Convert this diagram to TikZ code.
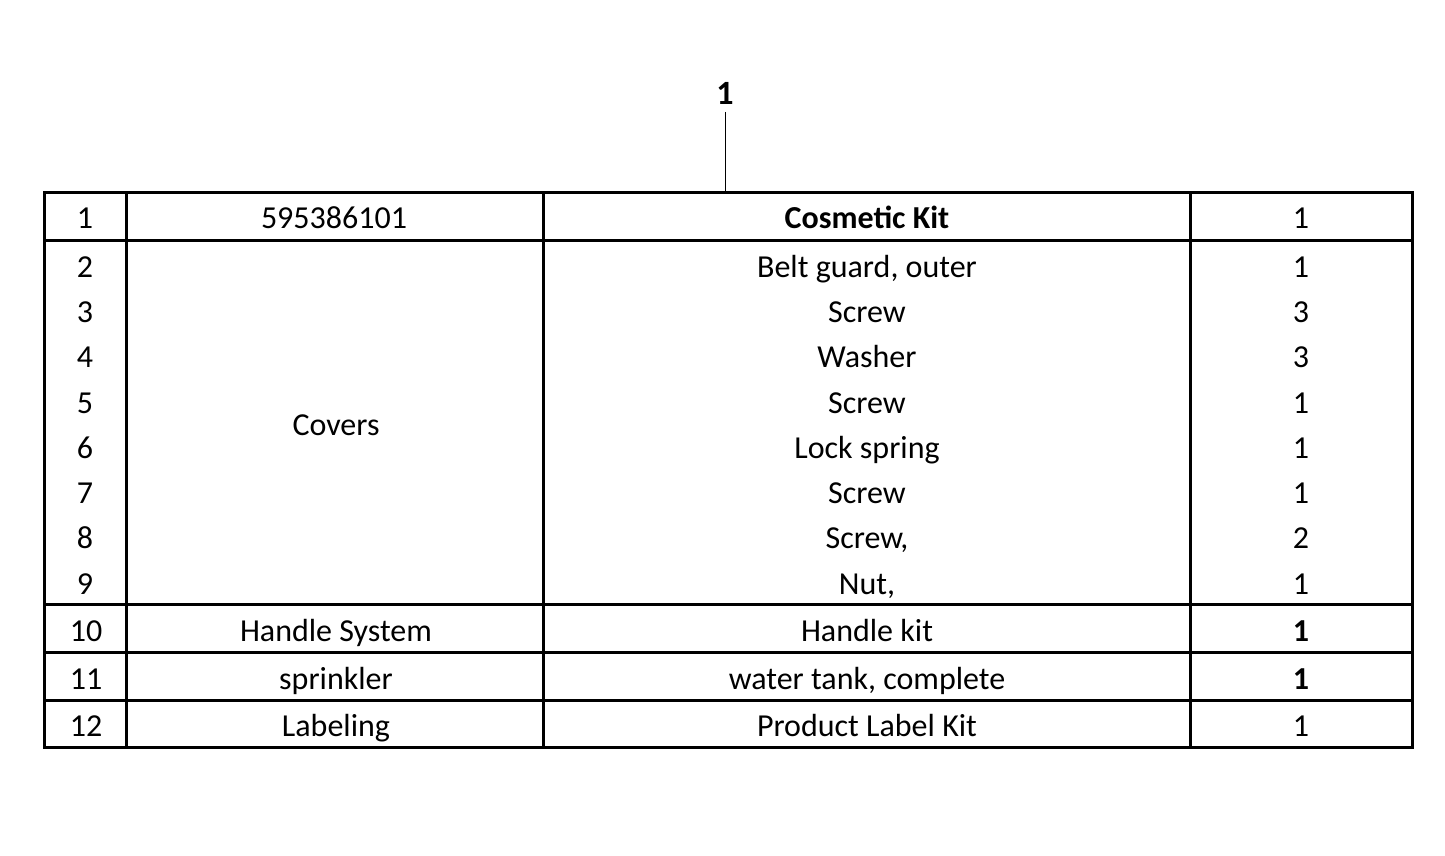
\documentclass[tikz,border=0pt]{standalone}
\usepackage{fontspec}
\setmainfont{Carlito}
\begin{document}
\begin{tikzpicture}[x=1pt,y=-1pt,
  t/.style={font=\fontsize{32}{34}\selectfont, inner sep=0pt, anchor=base, text height=0pt, text depth=0pt},
  L/.style={line width=3pt}]
\useasboundingbox (0,0) rectangle (1445,856);
\node[t,font=\fontsize{34}{36}\selectfont\bfseries] (lab) at (725,105) {1};
\coordinate (lt) at (725,112);
\coordinate (lb) at (725,192);
\draw[line width=1pt] (lt) -- (lb);
\draw[L] (44,192) rectangle (1412,747);
\foreach \y in {240,604,652,700} \draw[L] (44,\y) -- (1412,\y);
\foreach \x in {126,543,1190} \draw[L] (\x,192) -- (\x,747);
\def\dy{11}
\node[t] (a1) at (85,217+\dy) {1};
\node[t] (b1) at (334,217+\dy) {595386101};
\node[t,font=\fontsize{32}{34}\selectfont\bfseries] (c1) at (867,217+\dy) {Cosmetic Kit};
\node[t] (d1) at (1301,217+\dy) {1};
\node[t] (cov) at (336,424+\dy) {Covers};
\foreach \n/\y/\d/\q in {2/266/{Belt guard, outer}/1, 3/311/Screw/3, 4/356/Washer/3, 5/402/Screw/1, 6/447/Lock spring/1, 7/492/Screw/1, 8/537/{Screw,}/2, 9/583/{Nut,}/1}{
  \node[t] (a\n) at (85,\y+\dy) {\n};
  \node[t] (c\n) at (867,\y+\dy) {\d};
  \node[t] (d\n) at (1301,\y+\dy) {\q};
}
\node[t] (a10) at (86,630+\dy) {10};
\node[t] (b10) at (336,630+\dy) {Handle System};
\node[t] (c10) at (867,630+\dy) {Handle kit};
\node[t,font=\fontsize{32}{34}\selectfont\bfseries] (d10) at (1301,630+\dy) {1};
\node[t] (a11) at (86,678+\dy) {11};
\node[t] (b11) at (336,678+\dy) {sprinkler};
\node[t] (c11) at (867,678+\dy) {water tank, complete};
\node[t,font=\fontsize{32}{34}\selectfont\bfseries] (d11) at (1301,678+\dy) {1};
\node[t] (a12) at (86,725+\dy) {12};
\node[t] (b12) at (336,725+\dy) {Labeling};
\node[t] (c12) at (867,725+\dy) {Product Label Kit};
\node[t] (d12) at (1301,725+\dy) {1};
\end{tikzpicture}
\end{document}
